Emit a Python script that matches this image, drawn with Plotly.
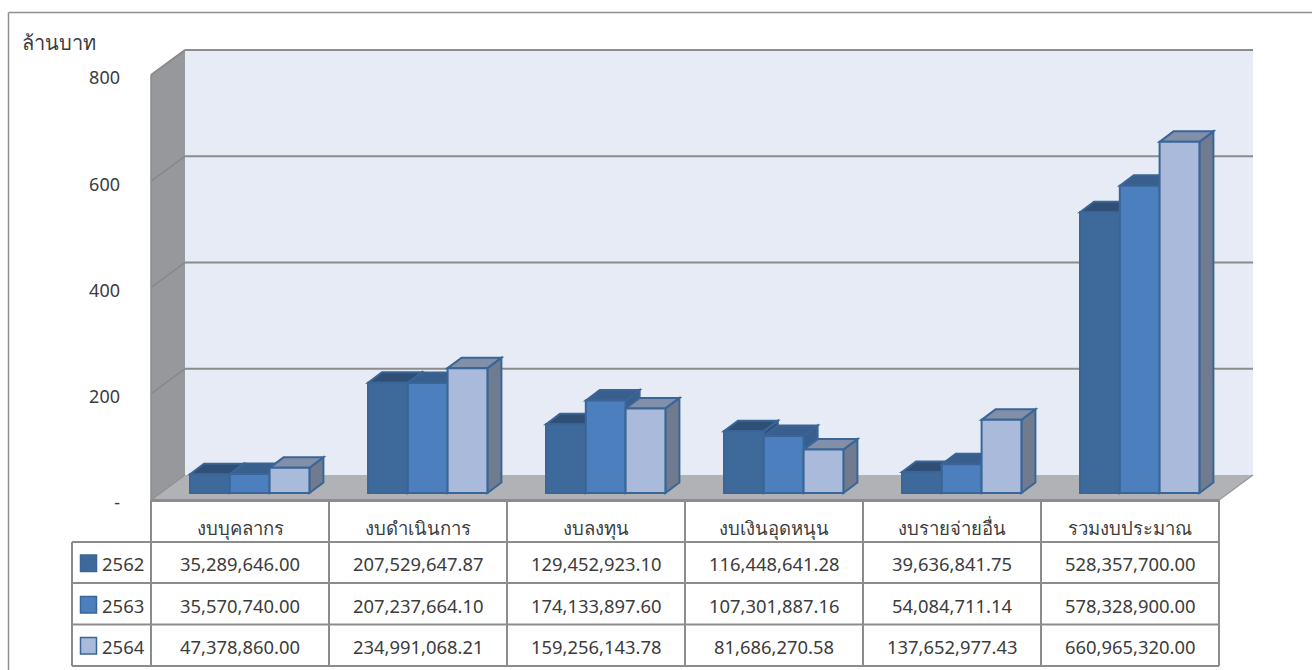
import plotly.graph_objects as go

categories = ["งบบุคลากร", "งบดำเนินการ", "งบลงทุน", "งบเงินอุดหนุน", "งบรายจ่ายอื่น", "รวมงบประมาณ"]
years = ["2562", "2563", "2564"]
y2562 = [35289646.00, 207529647.87, 129452923.10, 116448641.28, 39636841.75, 528357700.00]
y2563 = [35570740.00, 207237664.10, 174133897.60, 107301887.16, 54084711.14, 578328900.00]
y2564 = [47378860.00, 234991068.21, 159256143.78, 81686270.58, 137652977.43, 660965320.00]
series = [y2562, y2563, y2564]
tick_values = [0, 200, 400, 600, 800]
tick_labels = ["-", "200", "400", "600", "800"]
front_colors = ["#3e6a9b", "#4c7fbd", "#aabada"]
top_colors = ["#304f76", "#395f8f", "#828fa8"]
side_colors = ["#304f76", "#395f8f", "#707b8f"]
edge_color = "#3a6697"
FONT = "Noto Sans, Open Sans, sans-serif"
TEXT = "#3c3c3c"
GRID = "#8c8c8c"

W, H = 1312, 670
# pixel scales of the front plane
PX_CAT, PX_UNIT = 178.0, 425.0 / 800.0
X0, Y0 = 151.0, 500.0          # pixel of category 0 / value 0 on the front plane
L, R, T, B = 145.0, 1259.0, 44.0, 506.0  # plot area in pixels
to_x = lambda px: (px - X0) / PX_CAT
to_y = lambda py: (Y0 - py) / PX_UNIT
DX, DY = 34.0 / PX_CAT, 25.0 / PX_UNIT     # depth of the box
BDX, BDY = 14.0 / PX_CAT, 10.5 / PX_UNIT   # depth of one bar
BASE = 7.0 / PX_UNIT                       # bars stand a little behind the front edge
BW = 39.8 / PX_CAT
START = 39.0 / PX_CAT
N = len(categories)

px = lambda v: (v - L) / (R - L)
py = lambda v: (B - v) / (B - T)


def poly(points, fill, line=None, width=0, layer="below"):
    path = "M " + " L ".join(f"{a:.5f},{b:.4f}" for a, b in points) + " Z"
    return dict(type="path", path=path, xref="x", yref="y", fillcolor=fill, layer=layer,
                line=dict(color=line or fill, width=width))


def seg(x0, y0, x1, y1, color=GRID, width=2, layer="below", xref="x", yref="y"):
    return dict(type="line", x0=x0, y0=y0, x1=x1, y1=y1, xref=xref, yref=yref, layer=layer,
                line=dict(color=color, width=width))


shapes = []
# walls and floor
shapes.append(poly([(DX, DY), (N + DX, DY), (N + DX, 800 + DY), (DX, 800 + DY)], "#e7ebf5"))
shapes.append(poly([(0, 0), (DX, DY), (DX, 800 + DY), (0, 800)], "#97989c"))
shapes.append(poly([(0, 0), (N, 0), (N + DX, DY), (DX, DY)], "#b0b2b6"))
for v in tick_values[1:]:
    shapes.append(seg(0, v, DX, v + DY, color="#85868a", width=1.5))
    shapes.append(seg(DX, v + DY, N + DX, v + DY, width=2))
shapes.append(seg(0, 800, DX, 800 + DY))
shapes.append(seg(0, 0, 0, 800, color="#8c8d90", width=1.5))
shapes.append(seg(0, 0, DX, DY, color="#8f9094", width=1.5))
shapes.append(seg(N, 0, N + DX, DY, color="#9a9b9e", width=1.5))

# bar tops and sides, painted left to right
bar_x = []
for j, vals in enumerate(series):
    bar_x.append([i + START + BW * (j + 0.5) for i in range(N)])
for i in range(N):
    for j, vals in enumerate(series):
        left = i + START + BW * j
        right = left + BW
        top = BASE + vals[i] / 1e6
        shapes.append(poly([(right, BASE), (right + BDX, BASE + BDY), (right + BDX, top + BDY), (right, top)],
                           side_colors[j], edge_color, 2))
        shapes.append(poly([(left, top), (left + BDX, top + BDY), (right + BDX, top + BDY), (right, top)],
                           top_colors[j], edge_color, 2))

# table grid
col_lines = [X0 + PX_CAT * i for i in range(N + 1)]
row_lines = [542, 583, 624.5, 666]
for c in col_lines:
    shapes.append(seg(px(c), py(500), px(c), py(666), xref="paper", yref="paper", layer="above"))
shapes.append(seg(px(72), py(542), px(72), py(666), xref="paper", yref="paper", layer="above"))
for r in row_lines:
    shapes.append(seg(px(72), py(r), px(1219), py(r), xref="paper", yref="paper", layer="above"))
shapes.append(seg(px(151), py(500.5), px(1219), py(500.5), xref="paper", yref="paper", layer="above", width=3))

# outer frame
shapes.append(seg(px(8.5), py(12.5), px(1312), py(12.5), color="#8f8f8f", width=1.5, xref="paper", yref="paper", layer="above"))
shapes.append(seg(px(8.5), py(12.5), px(8.5), py(670), color="#8f8f8f", width=1.5, xref="paper", yref="paper", layer="above"))

annotations = [dict(text="ล้านบาท", x=px(19.5), y=py(43), xref="paper", yref="paper", xanchor="left",
                    yanchor="middle", showarrow=False, font=dict(size=20, family=FONT, color=TEXT))]
row_centres = [563.5, 605, 646]
for j, vals in enumerate(series):
    yc = row_centres[j]
    shapes.append(dict(type="rect", x0=px(80.5), x1=px(96.5), y0=py(yc - 8.5), y1=py(yc + 8), xref="paper", yref="paper",
                       fillcolor=front_colors[j], layer="above", line=dict(color=edge_color, width=1.5)))
    annotations.append(dict(text=years[j], x=px(123), y=py(yc), xref="paper", yref="paper", xanchor="center",
                            yanchor="middle", showarrow=False, font=dict(size=18.5, family=FONT, color=TEXT)))
    for i, v in enumerate(vals):
        annotations.append(dict(text=f"{v:,.2f}", x=i + 0.5, y=py(yc), xref="x", yref="paper", xanchor="center",
                                yanchor="middle", showarrow=False, font=dict(size=18.4, family=FONT, color=TEXT)))

fig = go.Figure()
for j, vals in enumerate(series):
    fig.add_trace(go.Bar(name=years[j], x=bar_x[j], y=[v / 1e6 for v in vals], base=BASE, width=BW,
                         marker=dict(color=front_colors[j], line=dict(color=edge_color, width=2)),
                         showlegend=False, hoverinfo="skip"))

fig.update_layout(
    width=W, height=H, autosize=False, barmode="overlay",
    margin=dict(l=L, r=W - R, t=T, b=H - B, pad=0),
    paper_bgcolor="white", plot_bgcolor="rgba(0,0,0,0)",
    font=dict(family=FONT, size=18, color=TEXT),
    shapes=shapes, annotations=annotations, showlegend=False,
    xaxis=dict(range=[to_x(L), to_x(R)], tickvals=[i + 0.5 for i in range(N)], ticktext=categories,
               showgrid=False, zeroline=False, showline=False, ticks="", ticklabelstandoff=9,
               tickfont=dict(size=18.5, family=FONT, color=TEXT)),
    yaxis=dict(range=[to_y(B), to_y(T)], tickvals=tick_values, ticktext=tick_labels,
               showgrid=False, zeroline=False, showline=False, ticks="", ticklabelstandoff=24, ticklabelshift=3,
               tickfont=dict(size=18, family=FONT, color=TEXT)),
)
fig.write_html("out.html", config={"displayModeBar": False},
               post_script="document.body.style.margin='0';document.body.style.overflow='hidden';")
